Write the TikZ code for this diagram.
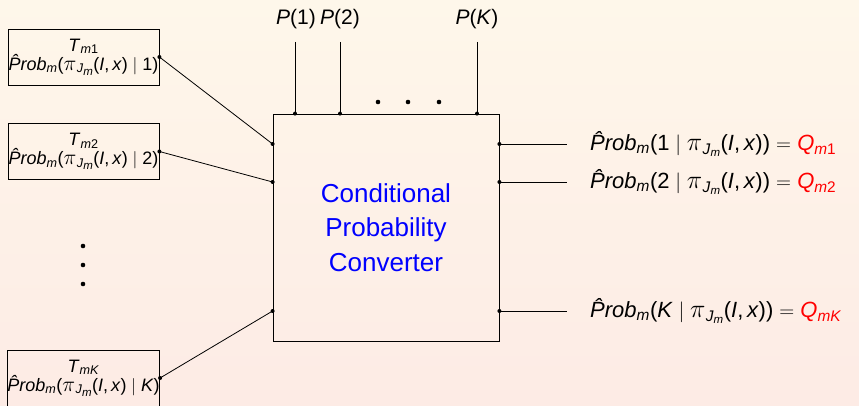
\documentclass[tikz,border=0pt]{standalone}
\usepackage{fontspec}
\usepackage{graphicx}
\setmainfont{Liberation Sans}
\usetikzlibrary{calc}
\definecolor{bgtop}{RGB}{254,247,234}
\definecolor{bgbot}{RGB}{253,235,229}
\newcommand\ti[1]{\textit{#1}}
\newcommand\sbs[1]{\textsubscript{#1}}
\newcommand\ssbs[1]{\raisebox{-0.18em}{\fontsize{11.5}{12}\selectfont #1}}
\newcommand\prb{\ti{\^{P}rob}\sbs{\ti{m}}}
\newcommand\pij{\scalebox{1.25}{$\pi$}\kern0.5pt\sbs{\ti{J}\ssbs{\ti{m}}}(\ti{I},\,\ti{x})}
\newcommand\vbr{$\;|\;$}
\begin{document}
\begin{tikzpicture}[x=1pt,y=-1pt,
  tbox/.style={draw,line width=0.8pt,minimum width=151pt,minimum height=56pt,inner sep=0pt,align=center,font=\fontsize{18}{19}\selectfont},
  mainbox/.style={draw,line width=0.8pt,minimum width=226pt,minimum height=227pt,inner sep=0pt,align=center,text=blue,font=\fontsize{26}{34.5}\selectfont},
  lbl/.style={inner sep=0pt,font=\fontsize{21}{24}\selectfont},
  outl/.style={inner sep=0pt,anchor=west,font=\fontsize{22}{24}\selectfont},
  wire/.style={line width=0.8pt},
  pin/.style={fill=black}]
\useasboundingbox (0,0) rectangle (859,406);
\shade[top color=bgtop,bottom color=bgbot] (0,0) rectangle (859,406);
% left boxes
\node[tbox] (t1) at (83.5,57) {\ti{T}\sbs{\ti{m}1}\\\prb(\pij\vbr 1)};
\node[tbox] (t2) at (83.5,151.5) {\ti{T}\sbs{\ti{m}2}\\\prb(\pij\vbr 2)};
\node[tbox] (tk) at (83.5,378) {\ti{T}\sbs{\ti{mK}}\\\prb(\pij\vbr\ti{K})};
% vertical dots
\coordinate (v1) at (83,246);
\coordinate (v2) at (83,265);
\coordinate (v3) at (83,284);
\foreach \v in {v1,v2,v3} \fill[pin] (\v) circle (2.3);
% main box
\node[mainbox] (conv) at (386,227.5) {Conditional\\Probability\\Converter};
% inputs on left side of main box
\coordinate (l1) at (conv.west |- 0,144);
\coordinate (l2) at (conv.west |- 0,182);
\coordinate (lk) at (conv.west |- 0,311);
\draw[wire] (t1.east) -- (l1);
\draw[wire] (t2.east) -- (l2);
\draw[wire] (tk.east) -- (lk);
\foreach \c in {t1.east,t2.east,tk.east,l1,l2,lk} \fill[pin] (\c) circle (2);
% top inputs
\node[lbl] (p1) at (296,19) {\ti{P}(1)};
\node[lbl] (p2) at (340,19) {\ti{P}(2)};
\node[lbl] (pk) at (477,19) {\ti{P}(\ti{K})};
\coordinate (a1) at (295,42);
\coordinate (a2) at (340,42);
\coordinate (ak) at (477,42);
\coordinate (b1) at (a1 |- conv.north);
\coordinate (b2) at (a2 |- conv.north);
\coordinate (bk) at (ak |- conv.north);
\draw[wire] (a1) -- (b1);
\draw[wire] (a2) -- (b2);
\draw[wire] (ak) -- (bk);
\foreach \c in {b1,b2,bk} \fill[pin] (\c) circle (2);
\coordinate (d1) at (378,102);
\coordinate (d2) at (408,102);
\coordinate (d3) at (439,102);
\foreach \c in {d1,d2,d3} \fill[pin] (\c) circle (2.3);
% outputs
\coordinate (r1) at (conv.east |- 0,144);
\coordinate (r2) at (conv.east |- 0,182);
\coordinate (rk) at (conv.east |- 0,311);
\coordinate (e1) at (567,144);
\coordinate (e2) at (567,182);
\coordinate (ek) at (567,311);
\draw[wire] (r1) -- (e1);
\draw[wire] (r2) -- (e2);
\draw[wire] (rk) -- (ek);
\foreach \c in {r1,r2,rk} \fill[pin] (\c) circle (2);
\node[outl] (q1) at (590,144) {\prb(1\vbr\pij)\ $=$\ \textcolor{red}{\ti{Q}\sbs{\ti{m}1}}};
\node[outl] (q2) at (590,182) {\prb(2\vbr\pij)\ $=$\ \textcolor{red}{\ti{Q}\sbs{\ti{m}2}}};
\node[outl] (qk) at (590,311) {\prb(\ti{K}\vbr\pij)\ $=$\ \textcolor{red}{\ti{Q}\sbs{\ti{mK}}}};
\end{tikzpicture}
\end{document}
